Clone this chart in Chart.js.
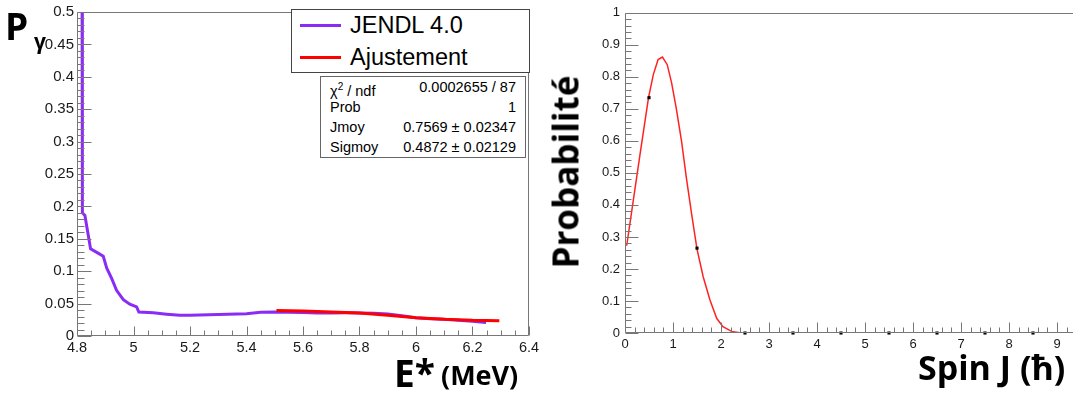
<!DOCTYPE html>
<html>
<head>
<meta charset="utf-8">
<script src="https://cdn.jsdelivr.net/npm/chart.js@4.4.1/dist/chart.umd.min.js"></script>
<style>
    html, body { margin: 0; padding: 0; background: #fff; overflow: hidden; }
    body { width: 1073px; height: 396px; position: relative; }
    #leftBox { position: absolute; left: 0; top: 0; width: 545px; height: 396px; }
    #rightBox { position: absolute; left: 545px; top: 0; width: 540px; height: 396px; }
    .big { position: absolute; font-family: "Open Sans", sans-serif; font-weight: 700; color: #000; line-height: 1; white-space: nowrap; }
    #legend { position: absolute; left: 291px; top: 9px; width: 237px; height: 62px; border: 1px solid #444; background: #fff;
        font-family: "Liberation Sans", Arial, sans-serif; font-size: 23.5px; color: #000; }
    #legend .entry { position: absolute; left: 0; height: 30px; line-height: 30px; }
    #legend .swatch { position: absolute; left: 8px; top: 14px; width: 41px; height: 3px; }
    #legend .txt { position: absolute; left: 58px; top: 0; white-space: nowrap; }
    #stats { position: absolute; left: 320px; top: 76px; width: 204px; height: 80px; border: 1px solid #666; background: #fff;
        font-family: "Liberation Sans", Arial, sans-serif; font-size: 14.5px; color: #000; }
    #stats .row { position: absolute; left: 0; width: 100%; height: 20px; line-height: 20px; }
    #stats .name { position: absolute; left: 9px; }
    #stats .val { position: absolute; right: 9px; }
</style>
</head>
<body>
<div id="leftBox"><canvas id="leftChart"></canvas></div>
<div id="rightBox"><canvas id="rightChart"></canvas></div>

<div id="legend"></div>
<div id="stats"></div>

<div class="big" style="left:5px; top:7px; font-size:37px;">P</div>
<div class="big" style="left:34px; top:31px; font-size:21px;">γ</div>
<div class="big" style="left:394px; top:354px; font-size:37px;">E*</div>
<div class="big" style="left:441px; top:361px; font-size:27px;">(MeV)</div>
<div class="big" style="left:565px; top:172px; font-size:35px; transform: translate(-50%, -50%) rotate(-90deg);">Probabilité</div>
<div class="big" style="left:918px; top:350px; font-size:34px;">Spin J (ħ)</div>

<script>
(function () {
    "use strict";

    // left panel: gamma emission probability vs excitation energy
    var jendlEnergy = [4.818, 4.819, 4.828, 4.848, 4.870, 4.893, 4.905, 4.923, 4.940, 4.964, 4.987, 5.011, 5.019,
        5.070, 5.117, 5.164, 5.20, 5.30, 5.40, 5.45, 5.50, 5.55, 5.60, 5.65, 5.70, 5.75, 5.80, 5.85, 5.90, 5.95,
        6.00, 6.05, 6.10, 6.15, 6.20, 6.248];
    var jendlProb = [0.52, 0.190, 0.186, 0.1345, 0.129, 0.123, 0.105, 0.0885, 0.0705, 0.056, 0.049, 0.045, 0.037,
        0.0358, 0.0337, 0.032, 0.0319, 0.033, 0.0345, 0.0365, 0.037, 0.0365, 0.0362, 0.0355, 0.0355, 0.0357, 0.0355,
        0.035, 0.034, 0.0314, 0.028, 0.0268, 0.0257, 0.0242, 0.0227, 0.021];
    var fitEnergy = [5.506, 5.60, 5.70, 5.80, 5.90, 6.00, 6.10, 6.20, 6.295];
    var fitProb = [0.0395, 0.0386, 0.037, 0.0355, 0.032, 0.0283, 0.0257, 0.0242, 0.0237];

    var leftXTicks = [4.8, 5.0, 5.2, 5.4, 5.6, 5.8, 6.0, 6.2, 6.4];
    var leftXLabels = ["4.8", "5", "5.2", "5.4", "5.6", "5.8", "6", "6.2", "6.4"];
    var leftYTicks = [0, 0.05, 0.1, 0.15, 0.2, 0.25, 0.3, 0.35, 0.4, 0.45, 0.5];
    var leftYLabels = ["0", "0.05", "0.1", "0.15", "0.2", "0.25", "0.3", "0.35", "0.4", "0.45", "0.5"];

    var seriesNames = ["JENDL 4.0", "Ajustement"];
    var seriesColors = ["#8a2cf6", "#ff0000"];

    var statNames = ["χ² / ndf", "Prob", "Jmoy", "Sigmoy"];
    var statValues = ["0.0002655 / 87", "1", "0.7569 ± 0.02347", "0.4872 ± 0.02129"];

    // right panel: spin distribution
    var spinFitJ = [0.035, 0.17, 0.31, 0.49, 0.59, 0.69, 0.78, 0.88, 0.97, 1.07, 1.18, 1.28, 1.39, 1.50, 1.63,
        1.77, 1.91, 2.04, 2.22, 2.39, 2.6, 9.5];
    var spinFitP = [0.2725, 0.411, 0.555, 0.735, 0.807, 0.854, 0.862, 0.838, 0.782, 0.700, 0.597, 0.483, 0.370,
        0.262, 0.175, 0.103, 0.046, 0.020, 0.005, 0.001, 0, 0];
    var spinPointJ = [0.5, 1.5, 2.5, 3.5, 4.5, 5.5, 6.5, 7.5, 8.5];
    var spinPointP = [0.735, 0.265, 0, 0, 0, 0, 0, 0, 0];

    var rightXTicks = [0, 1, 2, 3, 4, 5, 6, 7, 8, 9];
    var rightXLabels = ["0", "1", "2", "3", "4", "5", "6", "7", "8", "9"];
    var rightYTicks = [0, 0.1, 0.2, 0.3, 0.4, 0.5, 0.6, 0.7, 0.8, 0.9, 1];
    var rightYLabels = ["0", "0.1", "0.2", "0.3", "0.4", "0.5", "0.6", "0.7", "0.8", "0.9", "1"];

    function toPoints(xs, ys) {
        return xs.map(function (x, i) { return { x: x, y: ys[i] }; });
    }

    function fixedTicks(values) {
        return function (scale) {
            scale.ticks = values.map(function (v) { return { value: v }; });
        };
    }

    // ROOT style frame with inward ticks
    var rootAxes = {
        id: "rootAxes",
        afterDatasetsDraw: function (chart, args, opts) {
            var ctx = chart.ctx;
            var a = chart.chartArea;
            var xs = chart.scales.x;
            var ys = chart.scales.y;
            var left = Math.round(a.left) + 0.5;
            var right = Math.round(a.right) - 0.5;
            var top = Math.round(a.top) + 0.5;
            var bottom = Math.round(a.bottom) - 0.5;
            var i, n, v, p;

            ctx.save();
            ctx.strokeStyle = opts.color;
            ctx.lineWidth = 1;
            ctx.beginPath();
            ctx.rect(left, top, right - left, bottom - top);

            n = Math.round((xs.max - xs.min) / opts.xStep);
            for (i = 0; i <= n; i++) {
                v = xs.min + i * opts.xStep;
                p = Math.round(xs.getPixelForValue(v)) + 0.5;
                var major = xs.ticks.some(function (t) { return Math.abs(t.value - v) < 1e-6; });
                ctx.moveTo(p, bottom);
                ctx.lineTo(p, bottom - (major ? opts.xMajor : opts.xMinor));
            }
            n = Math.round((ys.max - ys.min) / opts.yStep);
            for (i = 0; i <= n; i++) {
                v = ys.min + i * opts.yStep;
                p = Math.round(ys.getPixelForValue(v)) + 0.5;
                var majorY = ys.ticks.some(function (t) { return Math.abs(t.value - v) < 1e-6; });
                ctx.moveTo(left, p);
                ctx.lineTo(left + (majorY ? opts.yMajor : opts.yMinor), p);
            }
            ctx.stroke();
            ctx.restore();
        }
    };

    function axis(min, max, ticks, labels, size, pad, fit) {
        return {
            type: "linear",
            min: min,
            max: max,
            afterBuildTicks: fixedTicks(ticks),
            afterFit: fit,
            grid: { display: false, drawTicks: false },
            border: { display: false },
            ticks: {
                autoSkip: false,
                maxRotation: 0,
                padding: pad,
                color: "#1a1a1a",
                font: { family: "'Liberation Sans', Arial, sans-serif", size: size },
                callback: function (value, index) { return labels[index]; }
            }
        };
    }

    new Chart(document.getElementById("leftChart"), {
        type: "scatter",
        data: {
            datasets: [
                {
                    label: seriesNames[0],
                    data: toPoints(jendlEnergy, jendlProb),
                    showLine: true,
                    borderColor: seriesColors[0],
                    borderWidth: 3,
                    pointRadius: 0,
                    order: 1
                },
                {
                    label: seriesNames[1],
                    data: toPoints(fitEnergy, fitProb),
                    showLine: true,
                    borderColor: seriesColors[1],
                    borderWidth: 3,
                    pointRadius: 0,
                    order: 0
                }
            ]
        },
        options: {
            animation: false,
            responsive: true,
            maintainAspectRatio: false,
            layout: { padding: { top: 10, right: 16, bottom: 0, left: 0 } },
            scales: {
                x: axis(4.8, 6.4, leftXTicks, leftXLabels, 14.5, 3, function (s) { s.height = 60; }),
                y: axis(0, 0.5, leftYTicks, leftYLabels, 15, 3, function (s) { s.width = 77; })
            },
            plugins: {
                legend: { display: false },
                tooltip: { enabled: false },
                rootAxes: { color: "#777", xStep: 0.05, yStep: 0.01, xMajor: 9, xMinor: 5, yMajor: 14, yMinor: 7 }
            }
        },
        plugins: [rootAxes]
    });

    new Chart(document.getElementById("rightChart"), {
        type: "scatter",
        data: {
            datasets: [
                {
                    label: "fit",
                    data: toPoints(spinFitJ, spinFitP),
                    showLine: true,
                    borderColor: "#ff2222",
                    borderWidth: 1.5,
                    pointRadius: 0,
                    order: 1
                },
                {
                    label: "points",
                    data: toPoints(spinPointJ, spinPointP),
                    showLine: false,
                    pointStyle: "rect",
                    pointRadius: 2.2,
                    backgroundColor: "#000",
                    borderColor: "#000",
                    borderWidth: 0,
                    clip: false,
                    order: 0
                }
            ]
        },
        options: {
            animation: false,
            responsive: true,
            maintainAspectRatio: false,
            layout: { padding: { top: 9.5, right: 0, bottom: 0, left: 0 } },
            scales: {
                x: axis(0, 9.5, rightXTicks, rightXLabels, 13, 4, function (s) { s.height = 63; }),
                y: axis(0, 1, rightYTicks, rightYLabels, 13, 5, function (s) { s.width = 80; })
            },
            plugins: {
                legend: { display: false },
                tooltip: { enabled: false },
                rootAxes: { color: "#777", xStep: 0.2, yStep: 0.02, xMajor: 10, xMinor: 5, yMajor: 13, yMinor: 6 }
            }
        },
        plugins: [rootAxes]
    });

    // legend and fit statistics boxes
    var legend = document.getElementById("legend");
    seriesNames.forEach(function (name, i) {
        var entry = document.createElement("div");
        entry.className = "entry";
        entry.style.top = (i * 32) + "px";
        entry.innerHTML = '<span class="swatch" style="background:' + seriesColors[i] + '"></span>' +
            '<span class="txt">' + name + "</span>";
        legend.appendChild(entry);
    });

    var stats = document.getElementById("stats");
    statNames.forEach(function (name, i) {
        var row = document.createElement("div");
        row.className = "row";
        row.style.top = i * 20 + "px";
        row.innerHTML = '<span class="name">' + name.replace("²", "<sup style=\"font-size:10px\">2</sup>") +
            '</span><span class="val">' + statValues[i] + "</span>";
        stats.appendChild(row);
    });
})();
</script>
</body>
</html>
